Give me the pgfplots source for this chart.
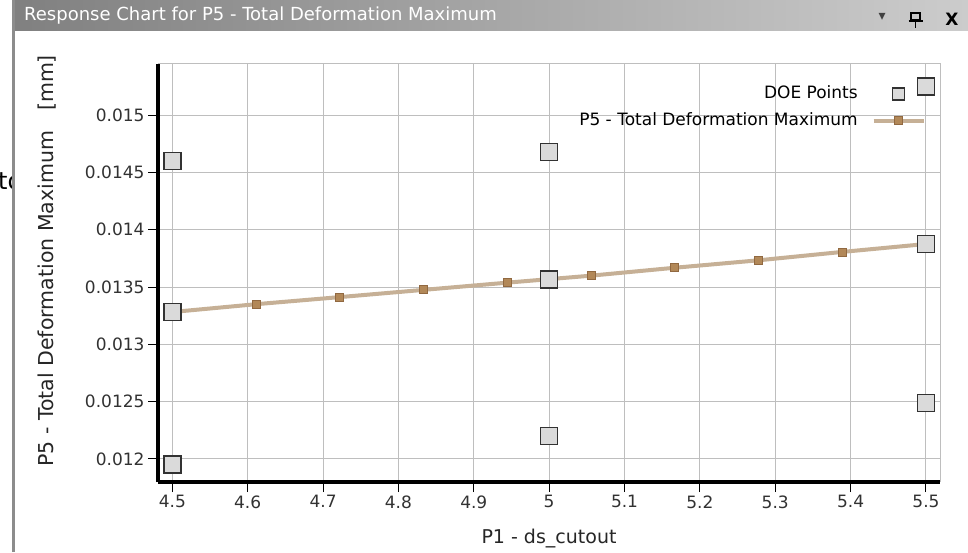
\documentclass[border=0pt]{standalone}
\usepackage{fontspec}
\setmainfont{DejaVu Sans}
\usepackage{pgfplots}
\pgfplotsset{compat=1.18}
\definecolor{barL}{RGB}{128,128,128}
\definecolor{barR}{RGB}{204,204,204}
\definecolor{gridc}{RGB}{190,190,190}
\definecolor{doefill}{RGB}{218,218,218}
\definecolor{doeedge}{RGB}{50,50,50}
\definecolor{respline}{RGB}{198,176,150}
\definecolor{respmark}{RGB}{178,136,88}
\definecolor{respedge}{RGB}{145,105,65}
\definecolor{framec}{RGB}{140,140,140}
\definecolor{ticktxt}{RGB}{50,50,50}
\begin{document}
\begin{tikzpicture}[x=1pt,y=1pt]
\useasboundingbox (0,0) rectangle (968,552);
\fill[white] (0,0) rectangle (968,552);
% stray clipped text at left edge
\begin{scope}
\clip (0,0) rectangle (12,552);
\node[anchor=base west, inner sep=0pt, font=\fontsize{24}{24}\selectfont] at (-2,362) {to};
\end{scope}
% title bar
\shade[left color=barL, right color=barR] (13,521) rectangle (968,552);
\draw[framec, line width=3pt] (13,0) -- (13,552);
\node[anchor=base west, inner sep=0pt, text=white, font=\fontsize{18}{18}\selectfont] at (24,531) {Response Chart for P5 - Total Deformation Maximum};
\node[text=black!75, inner sep=0pt, font=\fontsize{14}{14}\selectfont] at (882,535) {▾};
\draw[black, line width=1.6pt] (911,539) rectangle (920,532);
\draw[black, line width=1.6pt] (908.5,531) -- (922.5,531);
\draw[black, line width=1.6pt] (915.5,531) -- (915.5,524);
\node[text=black, inner sep=0pt, font=\bfseries\fontsize{17}{17}\selectfont] at (952,533) {X};
\begin{axis}[
  at={(158pt,70pt)}, anchor=south west, scale only axis,
  width=782pt, height=418pt,
  xmin=4.4810, xmax=5.5186, ymin=0.0117993, ymax=0.015445,
  axis x line*=bottom, axis y line*=left,
  axis line style={-, line width=4.8pt, black},
  xtick={4.5,4.6,4.7,4.8,4.9,5,5.1,5.2,5.3,5.4,5.5},
  xticklabels={4.5,4.6,4.7,4.8,4.9,5,5.1,5.2,5.3,5.4,5.5},
  ytick={0.012,0.0125,0.013,0.0135,0.014,0.0145,0.015},
  yticklabels={0.012,0.0125,0.013,0.0135,0.014,0.0145,0.015},
  scaled y ticks=false, scaled x ticks=false,
  grid=major, major grid style={gridc, line width=1pt},
  tick align=outside, major tick length=10pt,
  tick style={black, line width=1pt},
  xticklabel style={font=\fontsize{17}{17}\selectfont, text=ticktxt},
  yticklabel style={font=\fontsize{17}{17}\selectfont, text=ticktxt},
  xlabel={P1 - ds\_cutout},
  ylabel={P5 - Total Deformation Maximum\hspace{20pt}[mm]},
  every axis x label/.style={at={(axis description cs:0.5,0)}, anchor=base, yshift=-61pt, font=\fontsize{19}{19}\selectfont, text=black!85},
  every axis y label/.style={at={(axis description cs:-0.133,0.529)}, rotate=90, anchor=base, font=\fontsize{20.5}{20.5}\selectfont, text=black!85},
  legend style={at={(0.982,0.952)}, anchor=north east, draw=none, fill=none,
    font=\fontsize{17}{17}\selectfont, row sep=8pt, column sep=12pt, inner sep=0pt,
    nodes={inner sep=2pt, text height=12pt, text depth=3pt}},
  legend cell align=right,
  legend plot pos=right,
  reverse legend,
  clip=false,
]
\draw[gridc, line width=1pt] (rel axis cs:0,1) -- (rel axis cs:1,1) -- (rel axis cs:1,0);
\addplot[respline, line width=4pt, mark=square*, mark size=4pt,
  mark options={fill=respmark, draw=respedge, line width=0.8pt, solid},
  legend image code/.code={\draw[respline, line width=4pt] (0pt,0pt) -- (50pt,0pt);
    \draw[respedge, fill=respmark, line width=0.8pt] (21pt,-4pt) rectangle (29pt,4pt);}]
  coordinates {
  (4.5,0.013282) (4.6111,0.013350) (4.7222,0.013412) (4.8333,0.013475)
  (4.9444,0.013538) (5.0556,0.013599) (5.1667,0.013668) (5.2778,0.013733)
  (5.3889,0.013806) (5.5,0.013875)
  };
\addlegendentry{P5 - Total Deformation Maximum}
\addplot[only marks, mark=square*, mark size=8.5pt,
  mark options={fill=doefill, draw=doeedge, line width=1.5pt},
  legend image code/.code={\draw[doeedge, fill=doefill, line width=1.5pt] (19pt,-6pt) rectangle (31pt,6pt);}]
  coordinates {
  (4.5,0.014601) (4.5,0.013282) (4.5,0.011954)
  (5,0.014677) (5,0.013565) (5,0.012201)
  (5.5,0.015247) (5.5,0.013875) (5.5,0.012489)
  };
\addlegendentry{DOE Points}
\end{axis}
\end{tikzpicture}
\end{document}
